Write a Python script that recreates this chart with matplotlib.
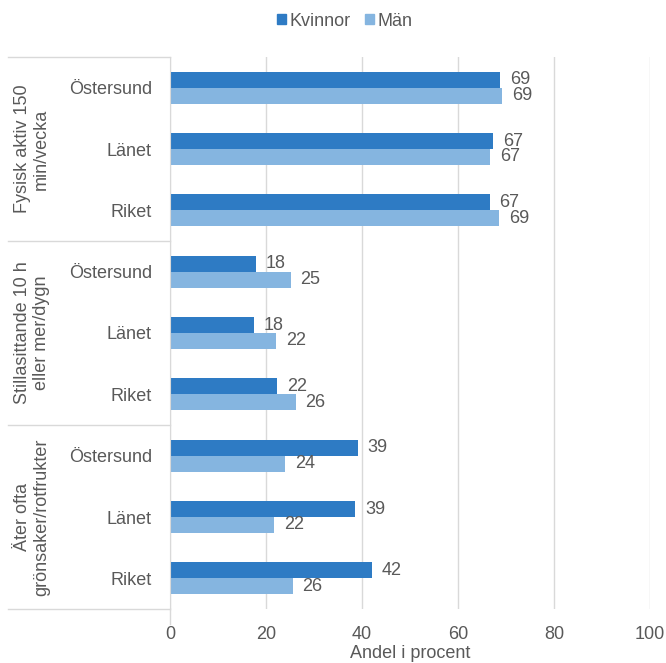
import numpy as np
import matplotlib.pyplot as plt
import matplotlib.transforms as mtransforms
from matplotlib.patches import Patch

plt.rcParams['font.family'] = ['Liberation Sans', 'DejaVu Sans']

groups = ['Fysisk aktiv 150\nmin/vecka', 'Stillasittande 10 h\neller mer/dygn', 'Äter ofta\ngrönsaker/rotfrukter']
places = ['Östersund', 'Länet', 'Riket']
kvinnor = [68.8, 67.3, 66.6, 17.9, 17.5, 22.3, 39.2, 38.6, 42.1]
man = [69.2, 66.7, 68.6, 25.2, 22.1, 26.2, 24.0, 21.7, 25.6]

c_k = '#2E7BC4'
c_m = '#85B5E0'
txt = '#595959'
line = '#D9D9D9'
fs = 13

fig = plt.figure(figsize=(6.66, 6.63), dpi=100)
ax = fig.add_axes([170/666, 1 - 609/663, 480/666, 552/663])

y = np.arange(len(kvinnor))
h = 0.26
ax.barh(y - h/2, kvinnor, height=h, color=c_k)
ax.barh(y + h/2, man, height=h, color=c_m)

for yi, v in zip(y, kvinnor):
    ax.text(v + 2, yi - h/2, f'{v:.0f}', va='center', ha='left', fontsize=fs, color=txt)
for yi, v in zip(y, man):
    ax.text(v + 2, yi + h/2, f'{v:.0f}', va='center', ha='left', fontsize=fs, color=txt)

ax.set_xlim(0, 100)
ax.set_ylim(8.5, -0.5)
ax.set_xticks(range(0, 101, 20))
ax.set_yticks(y)
ax.set_yticklabels(places * 3)
ax.tick_params(axis='y', length=0, pad=13, labelsize=fs, labelcolor=txt)
ax.tick_params(axis='x', length=0, pad=12, labelsize=fs, labelcolor=txt)
ax.grid(axis='x', color=line, linewidth=1)
ax.set_axisbelow(True)
for s in ['top', 'right', 'bottom']:
    ax.spines[s].set_visible(False)
ax.spines['left'].set_color(line)
ax.set_xlabel('Andel i procent', fontsize=fs, color=txt, labelpad=2)

# category table on the left
trans = mtransforms.blended_transform_factory(ax.transAxes, ax.transData)
x0 = (8 - 170) / 480
for yb in [-0.5, 2.5, 5.5, 8.5]:
    ax.plot([x0, 0], [yb, yb], transform=trans, color=line, lw=1, clip_on=False)
ax.plot([0, 0], [8.5, 8.75], transform=trans, color=line, lw=1, clip_on=False)
for i, g in enumerate(groups):
    ax.text((32 - 170) / 480, 3 * i + 1, g, transform=trans, rotation=90,
            ha='center', va='center', fontsize=fs, color=txt, linespacing=1.15)

handles = [Patch(color=c_k, label='Kvinnor'), Patch(color=c_m, label='Män')]
fig.legend(handles=handles, loc='center', bbox_to_anchor=(345/666, 1 - 21/663), ncol=2,
           frameon=False, fontsize=fs, handlelength=0.5, handleheight=0.5,
           handletextpad=0.2, columnspacing=0.8, labelcolor=txt)

fig.savefig('out.png', dpi=100)
